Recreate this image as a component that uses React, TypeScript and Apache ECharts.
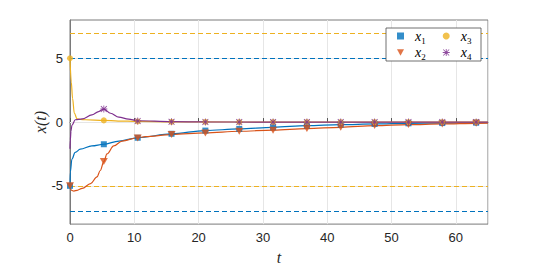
import React, { useEffect, useRef } from "react";
import * as echarts from "echarts";

// Marker times (every 100/19)
const markerT = [0, 5.26, 10.53, 15.79, 21.05, 26.32, 31.58, 36.84, 42.1, 47.37, 52.63, 57.89, 63.16];
const x1Markers = [-5, -1.74, -1.23, -0.92, -0.67, -0.54, -0.41, -0.28, -0.2, -0.15, -0.1, -0.08, -0.05];
const x2Markers = [-5, -3.1, -1.25, -0.98, -0.85, -0.72, -0.64, -0.51, -0.41, -0.28, -0.2, -0.15, -0.1];
const x3Markers = [5, 0.13, 0.05, 0.02, 0.01, 0, 0, 0, 0, 0, 0, 0, 0];
const x4MarkerT = [5.26, 10.53, 15.79, 21.05, 26.32, 31.58, 36.84, 42.1, 47.37, 52.63, 57.89, 63.16];
const x4Markers = [1.02, 0.08, 0.02, 0.01, 0, 0, 0, 0, 0, 0, 0, 0];

// Curve samples
const x1T = [0, 0.05, 0.3, 0.8, 1.6, 3.4, 5.26, 7.6, 10.5, 15.8, 21, 26.3, 31.6, 36.8, 42.1, 47.4, 52.6, 57.9, 63.2, 65];
const x1Y = [-5, -3.9, -2.9, -2.38, -2.13, -1.87, -1.74, -1.49, -1.23, -0.92, -0.67, -0.54, -0.41, -0.28, -0.2, -0.15, -0.1, -0.08, -0.05, -0.05];
const x2T = [0, 0.25, 0.6, 1.1, 1.9, 3.2, 4.2, 4.7, 5.26, 5.75, 6.8, 8.1, 10.5, 11.7, 15.8, 21, 26.3, 31.6, 36.8, 42.1, 47.4, 52.6, 57.9, 63.2, 65];
const x2Y = [-5, -5.35, -5.41, -5.35, -5.2, -4.82, -4.3, -3.8, -3.1, -2.5, -1.87, -1.49, -1.23, -1.15, -0.98, -0.85, -0.72, -0.64, -0.51, -0.41, -0.28, -0.2, -0.15, -0.1, -0.09];
const x3T = [0, 0.2, 0.4, 0.67, 1.1, 1.6, 2.4, 5.26, 7.5, 10.5, 15.8, 21, 30, 40, 50, 65];
const x3Y = [5, 3.13, 1.85, 0.7, 0.25, 0.2, 0.18, 0.13, 0.08, 0.05, 0.02, 0.01, 0, 0, 0, 0];
const x4T = [0, 0.05, 0.15, 0.3, 0.83, 1.9, 3.4, 4.45, 5.26, 6.3, 7.6, 9.1, 10.5, 15.8, 21, 30, 40, 50, 65];
const x4Y = [-2.1, -1.4, -0.7, -0.25, 0.18, 0.25, 0.56, 0.82, 1.02, 0.69, 0.38, 0.23, 0.1, 0.03, 0.01, 0, 0, 0, 0];

const boundsBlue = [5, -7];
const boundsYellow = [7, -5];

const xRange = { min: 0, max: 65, interval: 10 };
const yRange = { min: -8, max: 8 };
const yTickValues = [-5, 0, 5];

const BLUE = "#0072BD";
const ORANGE = "#D95319";
const YELLOW = "#EDB120";
const PURPLE = "#7E2F8E";

const TRI_DOWN = "path://M0,0L10,0L5,9Z";
const ASTER =
  "path://M4.4,0h1.2v10h-1.2z M0,4.4h10v1.2h-10z M1.2,0.4l8.4,8.4-0.8,0.8-8.4,-8.4z M8.8,0.4l0.8,0.8-8.4,8.4-0.8,-0.8z";

const zip = (a: number[], b: number[]) => a.map((v, i) => [v, b[i]]);

export default function App() {
  const ref = useRef<HTMLDivElement>(null);
  useEffect(() => {
    document.body.style.margin = "0";
    const chart = echarts.init(ref.current!, null, { renderer: "svg" });
    const axisColor = "#262626";
    const labelFont = "Liberation Sans";
    const serif = "Liberation Serif";
    const legendText = {
      width: 18,
      rich: {
        v: { fontFamily: serif, fontStyle: "italic", fontSize: 14, lineHeight: 14, verticalAlign: "top", padding: [0, 0, 0, 6], color: "#000" },
        s: { fontFamily: serif, fontSize: 9, lineHeight: 9, verticalAlign: "top", padding: [7, 0, 0, 0], color: "#000" },
      },
    };
    const fmt = (name: string) => `{v|x}{s|${name.slice(1)}}`;
    const lineBase = (name: string, color: string, data: number[][]) => ({
      name,
      type: "line",
      data,
      showSymbol: false,
      smooth: 0.35,
      smoothMonotone: "x",
      lineStyle: { color, width: 1.2 },
      itemStyle: { color },
      silent: true,
      z: 2,
    });
    chart.setOption({
      animation: false,
      backgroundColor: "#fff",
      grid: { left: 70, right: 52, top: 20, bottom: 42, show: true, borderColor: "#7a7a7a", borderWidth: 1 },
      xAxis: {
        type: "value",
        ...xRange,
        name: "t",
        nameLocation: "middle",
        nameGap: 23,
        nameTextStyle: { fontFamily: serif, fontStyle: "italic", fontSize: 16, color: axisColor },
        axisLine: { show: true, lineStyle: { color: "#7a7a7a" } },
        axisTick: { show: true, inside: true, length: 4, lineStyle: { color: "#555" } },
        axisLabel: { fontFamily: labelFont, fontSize: 13, color: axisColor, margin: 7, showMaxLabel: false },
        splitLine: { show: true, lineStyle: { color: "#e6e6e6", width: 1 } },
      },
      yAxis: {
        type: "value",
        ...yRange,
        name: "x(t)",
        nameLocation: "middle",
        nameGap: 22,
        nameMoveOverlap: false,
        nameTextStyle: { fontFamily: serif, fontStyle: "italic", fontSize: 16, color: axisColor },
        axisLine: { show: true, lineStyle: { color: "#7a7a7a" } },
        axisTick: { show: true, inside: true, length: 4, lineStyle: { color: "#555" }, customValues: yTickValues },
        axisLabel: { fontFamily: labelFont, fontSize: 13, color: axisColor, margin: 7, customValues: yTickValues },
        splitLine: { show: false },
      },
      graphic: [
        {
          type: "rect",
          z: 50,
          shape: { x: 386, y: 28, width: 95, height: 33 },
          style: { fill: "#fff", stroke: "#4d4d4d", lineWidth: 0.8 },
        },
      ],
      legend: [
        {
          z: 60,
          left: 397,
          top: 29,
          padding: 0,
          itemGap: 17,
          itemWidth: 7,
          itemHeight: 7,
          selectedMode: false,
          formatter: fmt,
          textStyle: legendText,
          data: [
            { name: "x1", icon: "rect" },
            { name: "x3", icon: "circle" },
          ],
        },
        {
          z: 60,
          left: 397,
          top: 45.5,
          padding: 0,
          itemGap: 17,
          itemWidth: 7,
          itemHeight: 7,
          selectedMode: false,
          formatter: fmt,
          textStyle: legendText,
          data: [
            { name: "x2", icon: TRI_DOWN },
            { name: "x4", icon: ASTER },
          ],
        },
      ],
      series: [
        {
          ...lineBase("x1 curve", BLUE, zip(x1T, x1Y)),
          markLine: {
            silent: true,
            symbol: ["none", "none"],
            label: { show: false },
            z: 1,
            data: [
              ...yTickValues.map((v) => ({ yAxis: v, lineStyle: { color: "#e6e6e6", type: "solid", width: 1 } })),
              ...boundsBlue.map((v) => ({ yAxis: v, lineStyle: { color: BLUE, type: [5, 3], width: 1 } })),
              ...boundsYellow.map((v) => ({ yAxis: v, lineStyle: { color: YELLOW, type: [5, 3], width: 1 } })),
            ],
          },
        },
        lineBase("x2 curve", ORANGE, zip(x2T, x2Y)),
        lineBase("x3 curve", YELLOW, zip(x3T, x3Y)),
        lineBase("x4 curve", PURPLE, zip(x4T, x4Y)),
        { name: "x1", type: "scatter", data: zip(markerT, x1Markers), symbol: "rect", symbolSize: 6, itemStyle: { color: BLUE }, z: 3 },
        { name: "x2", type: "scatter", data: zip(markerT, x2Markers), symbol: TRI_DOWN, symbolSize: [8, 7], itemStyle: { color: ORANGE }, z: 3 },
        { name: "x3", type: "scatter", data: zip(markerT, x3Markers), symbol: "circle", symbolSize: 6, itemStyle: { color: YELLOW }, z: 3 },
        { name: "x4", type: "scatter", data: zip(x4MarkerT, x4Markers), symbol: ASTER, symbolSize: 7, itemStyle: { color: PURPLE, opacity: 0.85 }, z: 3 },
      ],
    });
    return () => chart.dispose();
  }, []);
  return <div ref={ref} style={{ width: 540, height: 270, position: "absolute", left: 0, top: 0 }} />;
}
